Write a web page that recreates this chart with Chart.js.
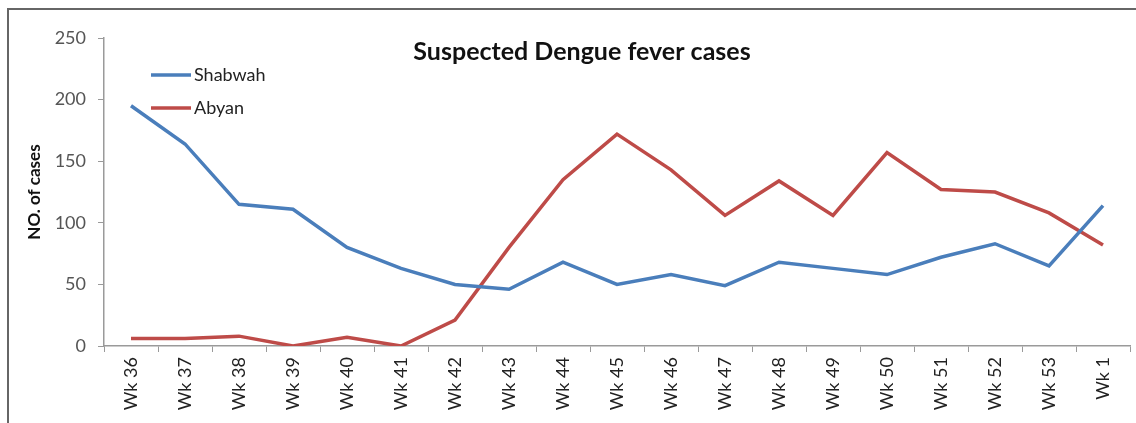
<!DOCTYPE html>
<html>
<head>
<meta charset="utf-8">
<script src="https://cdn.jsdelivr.net/npm/chart.js@4.4.1/dist/chart.umd.min.js"></script>
<style>
  body { margin: 0; background: #fff; }
  #wrap { position: relative; width: 1136px; height: 423px; overflow: hidden; }
  #frame { position: absolute; left: 7px; top: 8px; width: 1140px; height: 430px; border: 2px solid #666; box-sizing: border-box; }
  canvas { position: absolute; left: 0; top: 0; }
</style>
</head>
<body>
<div id="wrap">
  <div id="frame"></div>
  <canvas id="dengueChart" width="1136" height="423"></canvas>
</div>
<script>
// Week labels

const weeks = ['Wk 36', 'Wk 37', 'Wk 38', 'Wk 39', 'Wk 40', 'Wk 41', 'Wk 42', 'Wk 43', 'Wk 44', 'Wk 45',
  'Wk 46', 'Wk 47', 'Wk 48', 'Wk 49', 'Wk 50', 'Wk 51', 'Wk 52', 'Wk 53', 'Wk 1'];

// Cases per week

const shabwah = [195, 164, 115, 111, 80, 63, 50, 46, 68, 50, 58, 49, 68, 63, 58, 72, 83, 65, 114];
const abyan = [6, 6, 8, 0, 7, 0, 21, 80, 135, 172, 143, 106, 134, 106, 157, 127, 125, 108, 82];

const yTicks = [0, 50, 100, 150, 200, 250];

const chartTitle = 'Suspected Dengue fever cases';
const yTitle = 'NO. of cases';

const fontFamily = 'Lato, "Open Sans", sans-serif';

// title and legend sit inside the plot, like the spreadsheet original

const insidePlugin =
{
  id: 'insideText',
  afterDraw(chart)
  {
    const ctx = chart.ctx;
    ctx.save();
    ctx.fillStyle = '#111';
    ctx.font = 'bold 25px ' + fontFamily;
    ctx.textAlign = 'center';
    ctx.textBaseline = 'middle';
    ctx.fillText(chartTitle, 582, 52);

    ctx.font = '18px ' + fontFamily;
    ctx.textAlign = 'left';
    chart.data.datasets.forEach(function (ds, i)
    {
      const y = 75 + i * 33;
      ctx.strokeStyle = ds.borderColor;
      ctx.lineWidth = 3.5;
      ctx.beginPath();
      ctx.moveTo(151, y);
      ctx.lineTo(191, y);
      ctx.stroke();
      ctx.fillStyle = '#222';
      ctx.fillText(ds.label, 194, y);
    });
    ctx.restore();
  }
};

const ctx = document.getElementById('dengueChart');

new Chart(ctx,
{
  type: 'line',
  data:
  {
    labels: weeks,
    datasets:
    [
      {
        label: 'Shabwah',
        data: shabwah,
        borderColor: '#4A7EBB',
        borderWidth: 3.5,
        pointRadius: 0,
        tension: 0
      },
      {
        label: 'Abyan',
        data: abyan,
        borderColor: '#BE4B48',
        borderWidth: 3.5,
        pointRadius: 0,
        tension: 0
      }
    ]
  },
  options:
  {
    responsive: false,
    animation: false,
    layout:
    {
      padding: { top: 38, right: 6, left: 0, bottom: 0 }
    },
    scales:
    {
      x:
      {
        offset: true,
        grid:
        {
          offset: true,
          drawOnChartArea: false,
          drawTicks: true,
          tickLength: 6,
          color: '#9a9a9a'
        },
        border: { display: true, color: '#9a9a9a', width: 1.5 },
        ticks:
        {
          color: '#222',
          minRotation: 90,
          maxRotation: 90,
          padding: 5,
          font: { family: fontFamily, size: 18 }
        },
        afterFit(scale) { scale.height = 423 - 346; }
      },
      y:
      {
        min: 0,
        max: 250,
        afterBuildTicks(scale) { scale.ticks = yTicks.map(function (v) { return { value: v }; }); },
        grid:
        {
          drawOnChartArea: false,
          drawTicks: true,
          tickLength: 6,
          color: '#9a9a9a'
        },
        border: { display: true, color: '#9a9a9a', width: 1.5 },
        ticks:
        {
          color: '#555',
          padding: 12,
          font: { family: fontFamily, size: 18 }
        },
        title:
        {
          display: true,
          text: yTitle,
          color: '#111',
          padding: { top: 24, bottom: 0 },
          font: { family: fontFamily, size: 17, weight: 'bold' }
        },
        afterFit(scale) { scale.width = 104; }
      }
    },
    plugins:
    {
      legend: { display: false },
      title: { display: false },
      tooltip: { enabled: false }
    }
  },
  plugins: [insidePlugin]
});
</script>
</body>
</html>
